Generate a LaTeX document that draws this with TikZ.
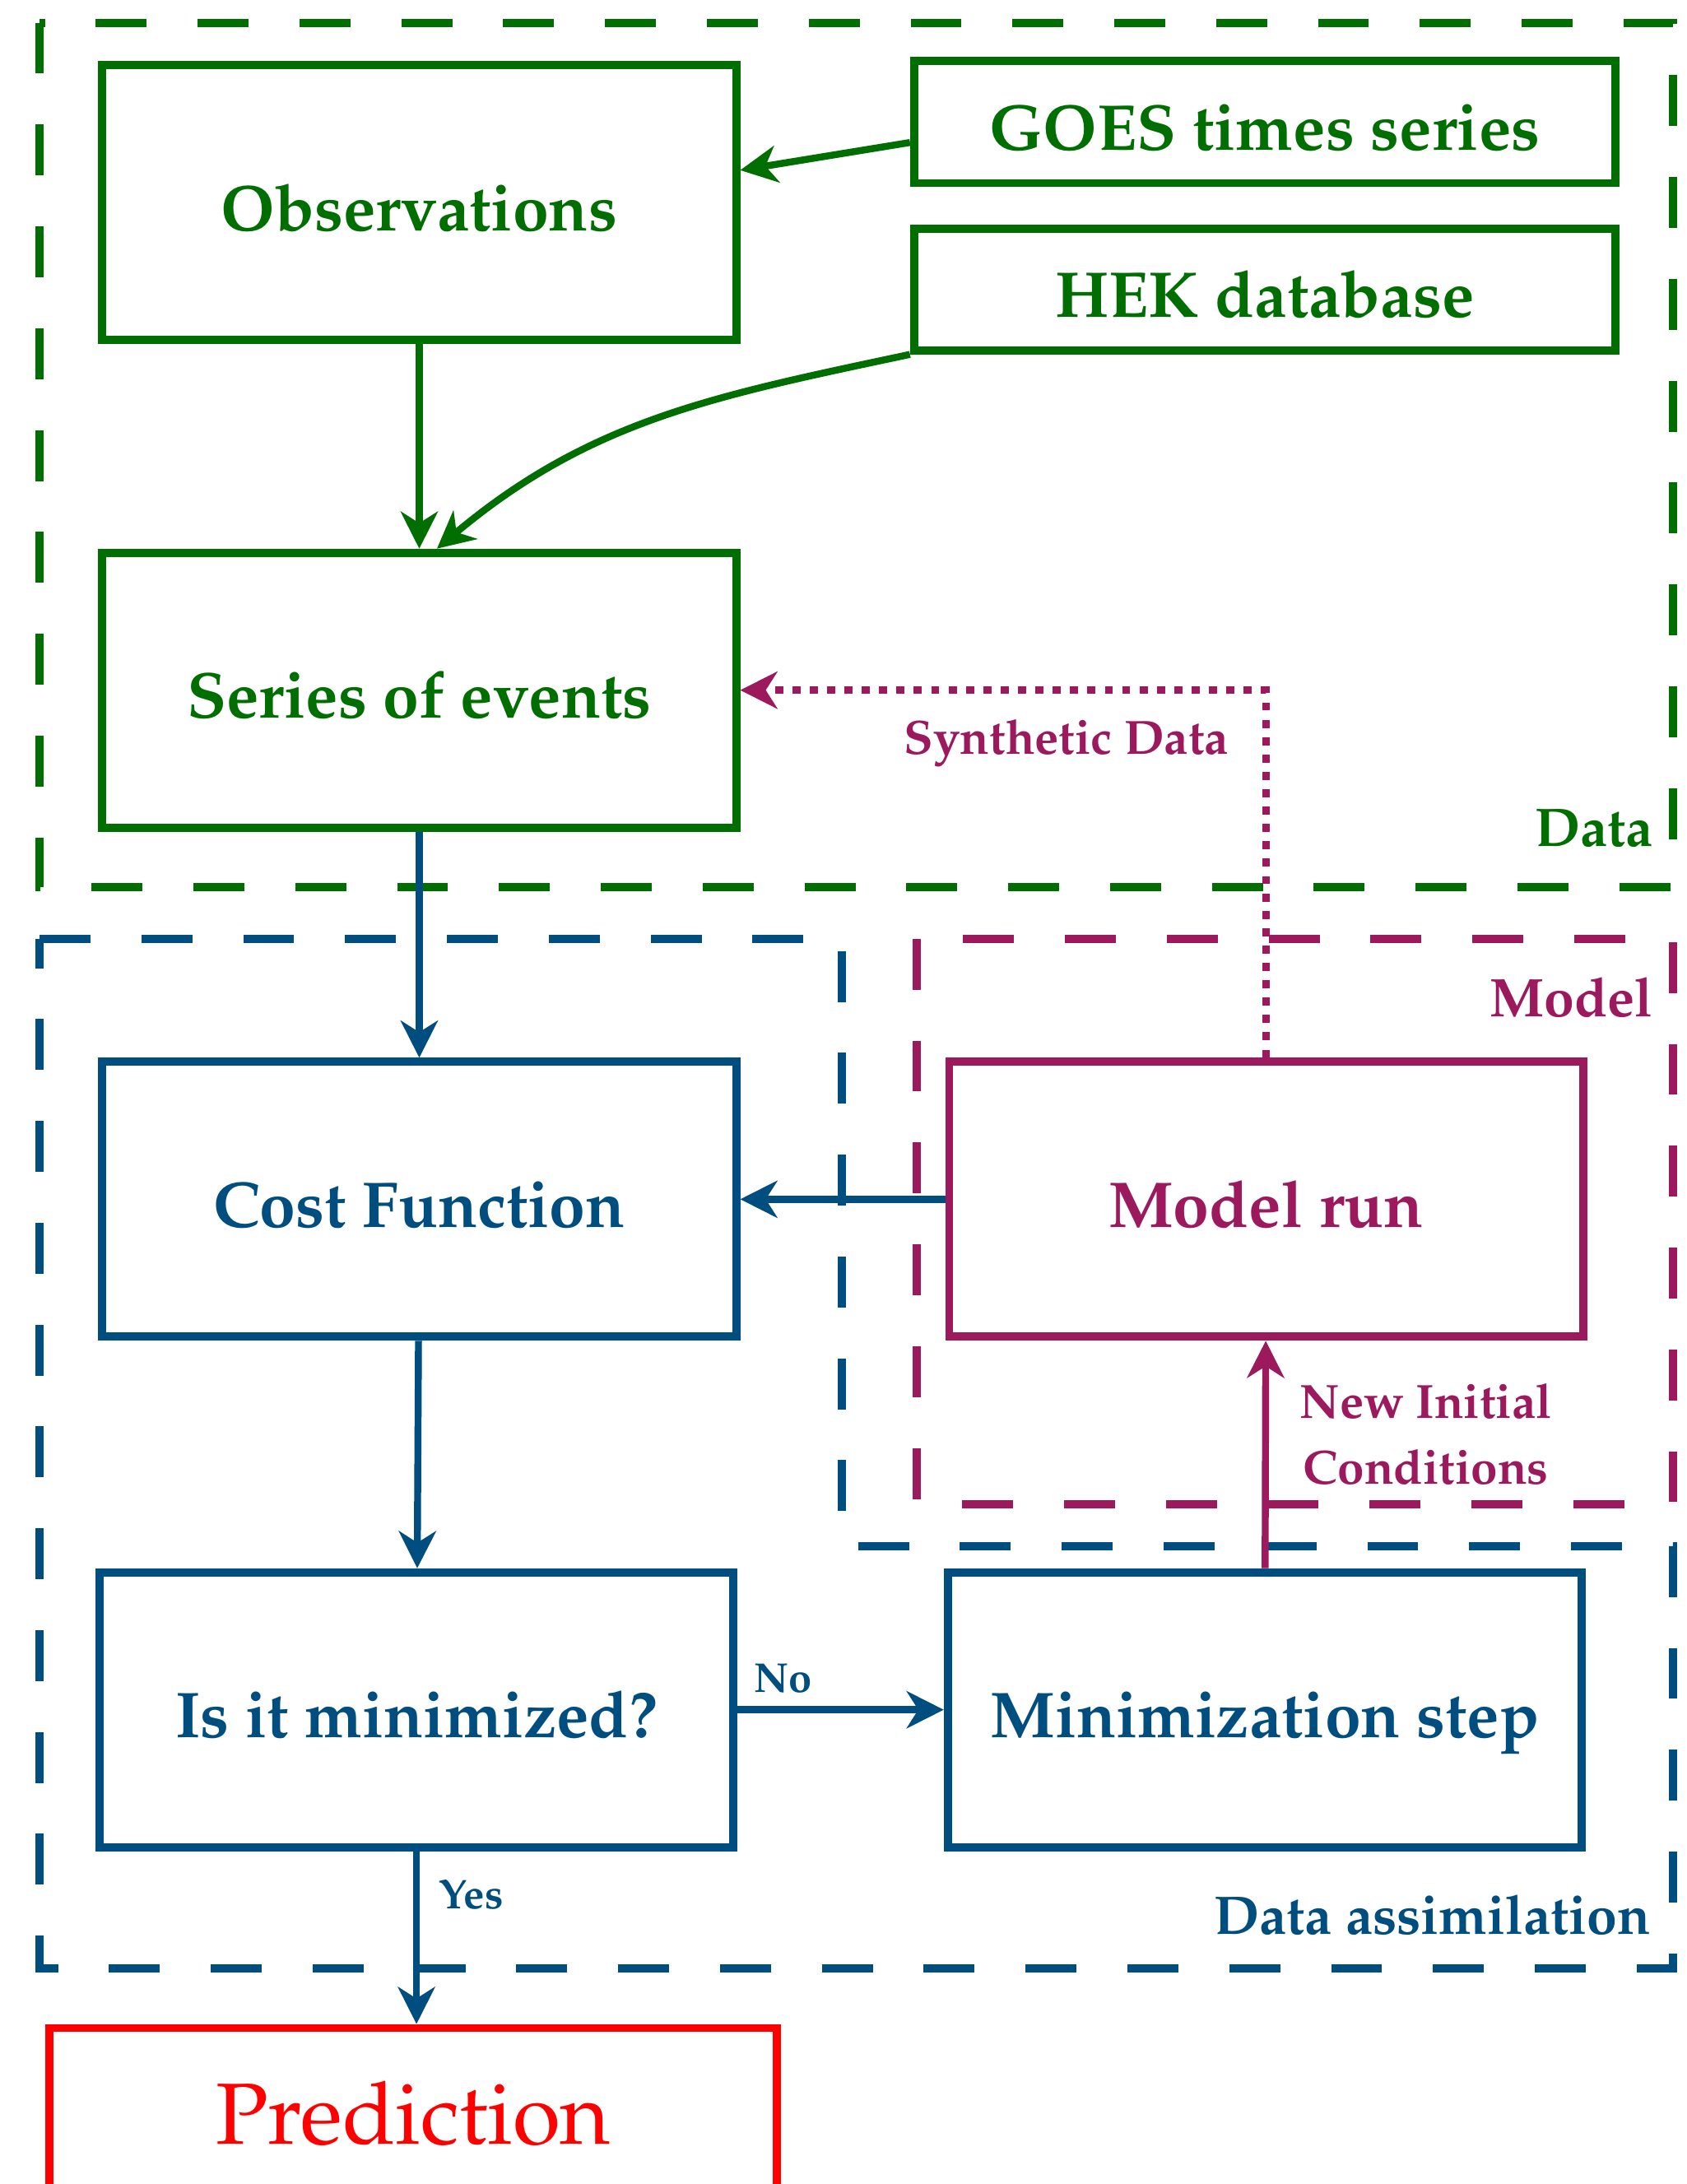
\documentclass[tikz,border=0pt]{standalone}
\usepackage[T1]{fontenc}
\usepackage{mathpazo}
\usepackage{xcolor}
\usetikzlibrary{arrows.meta,positioning}

\definecolor{datagreen}{RGB}{0,110,0}
\definecolor{assimblue}{RGB}{0,77,128}
\definecolor{modelpurple}{RGB}{155,25,92}

\begin{document}
\begin{tikzpicture}[scale=0.846,
	>={Stealth[length=6.4pt,width=6.4pt,inset=2pt]},
	block/.style={draw, line width=1.4pt, minimum width=3.85cm, minimum height=1.67cm, text height=9.6pt, text depth=0pt, font=\fontsize{11.2}{13}\selectfont\bfseries},
	source/.style={block, minimum width=4.26cm, minimum height=0.74cm},
	region/.style={line width=1.4pt, dash pattern=on 8.8pt off 8.8pt},
	flow/.style={->, line width=1.2pt},
	edgelabel/.style={font=\fontsize{8.3}{11.3}\selectfont\bfseries},
	answer/.style={font=\fontsize{7.2}{9}\selectfont\bfseries},
	grouplabel/.style={inner sep=0pt, anchor=east, font=\fontsize{9.4}{11}\selectfont\bfseries}]

	\useasboundingbox (0,0) rectangle (12.11,-15.68);

	% dashed regions
	\draw[region, datagreen] (0.284,-0.163) rectangle (12.01,-6.37);
	\draw[region, modelpurple] (6.58,-6.74) rectangle (12.01,-10.80);
	\draw[region, assimblue] (0.284,-6.74) -- (6.046,-6.74) -- (6.046,-11.10) -- (12.01,-11.10) -- (12.01,-14.13) -- (0.284,-14.13) -- cycle;

	\node[grouplabel, datagreen] (datalabel) at (11.875,-5.95) {Data};
	\node[grouplabel, modelpurple] (modellabel) at (11.875,-7.16) {Model};
	\node[grouplabel, assimblue] (assimlabel) at (11.86,-13.75) {Data assimilation};

	% boxes
	\node[block, datagreen] (obs) at (3.01,-1.455) {Observations};
	\node[source, datagreen] (goes) at (9.08,-0.877) {GOES times series};
	\node[source, datagreen] (hek) at (9.08,-2.078) {HEK database};
	\node[block, datagreen] (series) at (3.01,-4.955) {Series of events};
	\node[block, assimblue] (cost) at (3.01,-8.61) {Cost Function};
	\node[block, modelpurple] (run) at (9.09,-8.61) {Model run};
	\node[block, assimblue] (ismin) at (2.99,-12.275) {Is it minimized?};
	\node[block, assimblue] (minstep) at (9.08,-12.275) {Minimization step};
	\node[block, red, minimum width=4.42cm, minimum height=1.04cm, text height=, text depth=, font=\fontsize{15}{18}\selectfont] (pred) at (2.967,-15.175) {Prediction};

	% connectors
	\draw[flow, datagreen] ([yshift=-0.146cm]goes.west) -- ([yshift=0.233cm]obs.east);
	\draw[flow, datagreen] (obs) -- (series);
	\draw[flow, datagreen] (hek.south west) to[out=192, in=40] ([xshift=0.127cm]series.north);
	\draw[flow, modelpurple, dash pattern=on 1.4pt off 1.6pt] (run.north) |- node[edgelabel, below, pos=0.69, yshift=-1.2pt] {Synthetic Data} (series.east);
	\draw[flow, assimblue] (series) -- (cost);
	\draw[flow, assimblue] (run) -- (cost);
	\draw[flow, assimblue] (cost) -- (ismin);
	\draw[flow, assimblue] (ismin) -- node[answer, above, pos=0.22, yshift=-1pt] {No} (minstep);
	\draw[flow, modelpurple] (minstep) -- node[edgelabel, right, pos=0.59, align=center, xshift=2pt] {New Initial\\Conditions} (run);
	\draw[flow, assimblue] (ismin.south) -- node[answer, right, pos=0.25] {Yes} (ismin.south |- pred.north);
\end{tikzpicture}
\end{document}
